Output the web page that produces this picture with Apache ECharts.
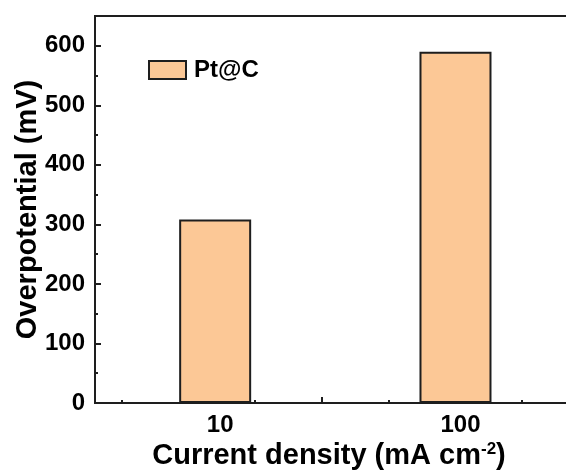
<!DOCTYPE html>
<html>
<head>
<meta charset="utf-8">
<script src="https://cdn.jsdelivr.net/npm/echarts@6/dist/echarts.min.js"></script>
<style>
  html, body { margin: 0; padding: 0; background: #fff; }
  #chart { width: 566px; height: 472px; }
</style>
</head>
<body>
<div id="chart"></div>
<script>
// Overpotential of Pt@C at two current densities
const seriesName = 'Pt@C';
const categories = ['10', '100'];        // current density, mA cm^-2
const positions = [1.2, 3];              // where each bar sits on the x scale
const overpotential = [308, 590];        // mV
const yTicks = [0, 100, 200, 300, 400, 500, 600];

const FONT = '"Liberation Sans", Arial, sans-serif';
const INK = '#1e1e1e';
const FILL = '#fcc896';

const chart = echarts.init(document.getElementById('chart'), null, { renderer: 'canvas' });

chart.setOption({
  animation: false,
  backgroundColor: '#fff',
  grid: {
    left: 95, top: 16, width: 494, bottom: 69,
    containLabel: false,
    outerBoundsMode: 'none',
    show: true, borderColor: INK, borderWidth: 2
  },
  legend: {
    left: 143, top: 53,
    itemWidth: 37, itemHeight: 18,
    icon: 'rect',
    data: [seriesName],
    textStyle: { fontFamily: FONT, fontWeight: 'bold', fontSize: 24, color: '#000', padding: [0, 0, 0, 3] }
  },
  xAxis: [
    {
      type: 'value', min: 0.3, max: 4, position: 'bottom',
      name: '{a|Current density (mA cm}{s|-2}{a|)}',
      nameLocation: 'middle', nameGap: 38,
      nameMoveOverlap: false,
      nameTextStyle: {
        padding: [0, 26, 0, 0],
        rich: {
          a: { fontFamily: FONT, fontWeight: 'bold', fontSize: 29, color: '#000' },
          s: { fontFamily: FONT, fontWeight: 'bold', fontSize: 17, color: '#000', verticalAlign: 'top', padding: [0, 0, 12, 0] }
        }
      },
      axisLine: { show: true, lineStyle: { color: INK, width: 2 } },
      axisTick: { show: true, inside: true, length: 6, customValues: [1, 2, 3], lineStyle: { color: INK, width: 2 } },
      axisLabel: {
        show: true, margin: 10, customValues: positions,
        formatter: v => {
          const i = positions.findIndex(p => Math.abs(p - v) < 1e-6);
          return i >= 0 ? categories[i] : '';
        },
        padding: [0, 0, 0, 10],
        fontFamily: FONT, fontWeight: 'bold', fontSize: 24, color: '#000'
      },
      splitLine: { show: false }
    },
    {
      // half-step minor ticks along the bottom axis
      type: 'value', min: 0.3, max: 4, position: 'bottom', offset: 0,
      axisLine: { show: false },
      axisTick: { show: true, inside: true, length: 3, customValues: [0.5, 1.5, 2.5, 3.5], lineStyle: { color: INK, width: 2 } },
      axisLabel: { show: false },
      splitLine: { show: false }
    }
  ],
  yAxis: {
    type: 'value', min: 0, max: 650, interval: 100,
    name: 'Overpotential (mV)',
    nameLocation: 'middle', nameGap: 53,
    nameMoveOverlap: false,
    nameTextStyle: { fontFamily: FONT, fontWeight: 'bold', fontSize: 29, color: '#000' },
    axisLine: { show: true, lineStyle: { color: INK, width: 2 } },
    axisTick: { show: true, inside: true, length: 6, lineStyle: { color: INK, width: 2 } },
    minorTick: { show: true, splitNumber: 2, length: 3, lineStyle: { color: INK, width: 2 } },
    axisLabel: {
      margin: 10, showMaxLabel: false,
      formatter: v => (yTicks.includes(v) ? String(v) : ''),
      fontFamily: FONT, fontWeight: 'bold', fontSize: 24, color: '#000'
    },
    splitLine: { show: false }
  },
  series: [{
    name: seriesName,
    type: 'bar',
    xAxisIndex: 0,
    barWidth: 72,
    data: positions.map((p, i) => [p, overpotential[i]]),
    itemStyle: { color: FILL, borderColor: INK, borderWidth: 2 }
  }]
});
</script>
</body>
</html>
